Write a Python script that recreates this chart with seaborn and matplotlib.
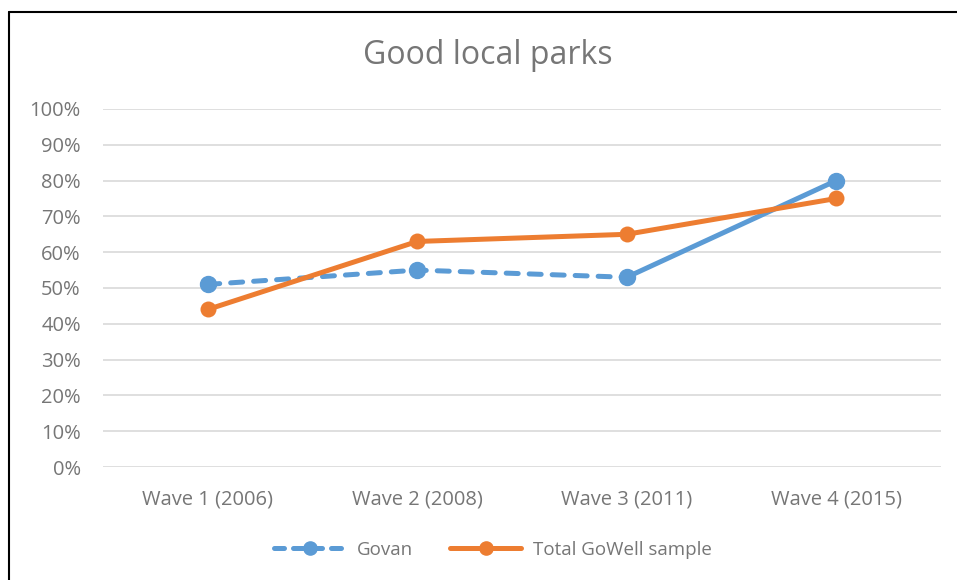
import numpy as np
import pandas as pd
import seaborn as sns
import matplotlib.pyplot as plt
from matplotlib.lines import Line2D

sns.set_style("white")
plt.rcParams['font.family'] = ['Open Sans', 'DejaVu Sans']

waves = ["Wave 1 (2006)", "Wave 2 (2008)", "Wave 3 (2011)", "Wave 4 (2015)"]
govan = [51, 55, 53, 80]
total = [44, 63, 65, 75]
yticks = [0, 10, 20, 30, 40, 50, 60, 70, 80, 90, 100]

blue = "#5b9bd5"
orange = "#ed7d31"
grey = "#767676"

df = pd.DataFrame({"x": range(len(waves)), "Govan": govan, "Total GoWell sample": total})

fig = plt.figure(figsize=(9.57, 5.8), dpi=100)
ax = fig.add_axes([0.1076, 0.1948, 0.8757, 0.6173])

for y in yticks:
    ax.axhline(y, color="#d9d9d9", lw=1.2, zorder=0)

# Govan: dashed for the first three waves, solid for the last step
sns.lineplot(data=df.iloc[:3], x="x", y="Govan", ax=ax, color=blue, lw=3.6,
             linestyle=(0, (2.4, 2.2)), dash_capstyle="round", marker=None, zorder=2)
sns.lineplot(data=df.iloc[2:], x="x", y="Govan", ax=ax, color=blue, lw=3.6,
             marker=None, zorder=2)
ax.plot(df["x"], df["Govan"], ls="none", marker="o", ms=11.5, color=blue, zorder=3)

sns.lineplot(data=df, x="x", y="Total GoWell sample", ax=ax, color=orange, lw=3.6,
             marker="o", markersize=11.5, markeredgewidth=0, zorder=4)

ax.set_xlim(-0.5, 3.5)
ax.set_ylim(0, 100)
ax.set_xticks(range(len(waves)))
ax.set_xticklabels(waves)
ax.set_yticks(yticks)
ax.set_yticklabels([f"{v}%" for v in yticks])
ax.tick_params(axis="both", colors=grey, labelsize=14.5, length=0)
ax.tick_params(axis="x", pad=16)
ax.tick_params(axis="y", pad=16)
ax.set_xlabel("")
ax.set_ylabel("")
for s in ax.spines.values():
    s.set_visible(False)

fig.text(0.510, 0.905, "Good local parks", ha="center", va="center",
         fontsize=23, color=grey)

handles = [
    Line2D([], [], color=blue, lw=3.6, linestyle=(0, (2.0, 1.8)),
           dash_capstyle="round", marker="o", ms=9.5),
    Line2D([], [], color=orange, lw=3.6, marker="o", ms=9.5),
]
fig.legend(handles, ["Govan", "Total GoWell sample"], loc="center",
           bbox_to_anchor=(0.515, 0.052), ncol=2, frameon=False,
           fontsize=13.5, labelcolor=grey, handlelength=3.8, columnspacing=2.0,
           handletextpad=0.6)

# outer frame (top and left only visible)
fig.add_artist(Line2D([9 / 957, 1.0], [1 - 12 / 580] * 2, color="black", lw=1.5,
                      transform=fig.transFigure))
fig.add_artist(Line2D([9 / 957] * 2, [0, 1 - 12 / 580], color="black", lw=1.5,
                      transform=fig.transFigure))

fig.savefig("out.png", dpi=100, facecolor="white")
